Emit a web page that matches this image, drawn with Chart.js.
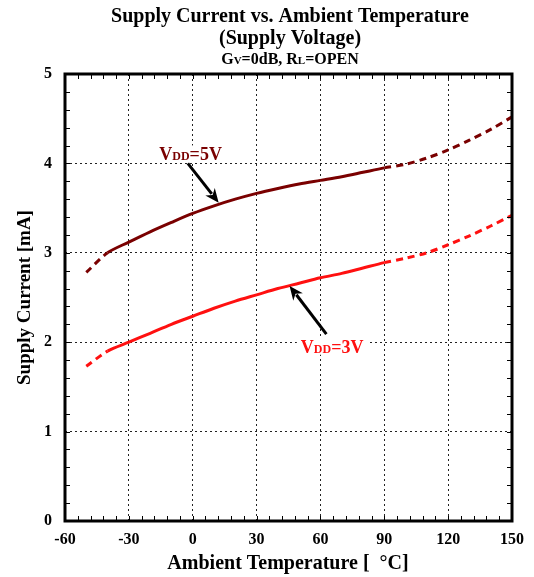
<!DOCTYPE html>
<html>
<head>
<meta charset="utf-8">
<script src="https://cdn.jsdelivr.net/npm/chart.js@4"></script>
<style>
  html, body { margin: 0; padding: 0; background: #fff; }
  #wrap { width: 534px; height: 577px; position: relative; }
</style>
</head>
<body>
<div id="wrap"><canvas id="chart"></canvas></div>
<script>
// Supply current vs ambient temperature

const TEMPS = [-50, -40, -30, -20, -10, 0, 10, 20, 30, 40, 50, 60, 70, 80, 90, 100, 110, 120, 130, 140, 150];
const VDD5  = [2.78, 3.00, 3.12, 3.235, 3.34, 3.44, 3.525, 3.60, 3.665, 3.72, 3.77, 3.81, 3.85, 3.90, 3.95, 3.99, 4.06, 4.15, 4.26, 4.38, 4.52];
const VDD3  = [1.73, 1.90, 2.00, 2.10, 2.20, 2.29, 2.38, 2.46, 2.53, 2.60, 2.66, 2.72, 2.77, 2.83, 2.89, 2.94, 3.00, 3.09, 3.19, 3.30, 3.42];

// measured range is solid, outside it the curve is dashed
const SOLID_FROM = -40;
const SOLID_TO   = 90;

const X_MIN = -60, X_MAX = 150, X_STEP = 30, X_MINOR = 6;
const Y_MIN = 0,   Y_MAX = 5,   Y_STEP = 1,  Y_MINOR = 0.2;

const DARK_RED = '#7a0000';
const RED      = '#ff1010';
const SERIF    = '"Liberation Serif", "Times New Roman", serif';

// ── Helpers ───────────────────────────────────────────────────────────────────
function points(ys) {
  return TEMPS.map((t, i) => ({ x: t, y: ys[i] }));
}

function dashOutside(ctx) {
  const x0 = ctx.p0.parsed.x;
  return (x0 < SOLID_FROM || x0 >= SOLID_TO) ? [7, 5] : undefined;
}

// draws text made of parts with different font sizes, centred on cx
function drawParts(ctx, parts, cx, y, color, bg) {
  ctx.save();
  ctx.textBaseline = 'alphabetic';
  ctx.textAlign = 'left';
  let total = 0, big = 0;
  parts.forEach(p => {
    ctx.font = `bold ${p[1]}px ${SERIF}`;
    total += ctx.measureText(p[0]).width;
    big = Math.max(big, p[1]);
  });
  let x = cx - total / 2;
  if (bg) {
    ctx.fillStyle = '#fff';
    ctx.fillRect(x - 4, y - big * 0.8, total + 8, big * 0.9);
  }
  ctx.fillStyle = color;
  parts.forEach(p => {
    ctx.font = `bold ${p[1]}px ${SERIF}`;
    ctx.fillText(p[0], x, y);
    x += ctx.measureText(p[0]).width;
  });
  ctx.restore();
}

function arrow(ctx, x1, y1, x2, y2) {
  const a = Math.atan2(y2 - y1, x2 - x1);
  const head = 14, half = 6;
  ctx.save();
  ctx.strokeStyle = '#000';
  ctx.fillStyle = '#000';
  ctx.lineWidth = 3;
  ctx.beginPath();
  ctx.moveTo(x1, y1);
  ctx.lineTo(x2 - Math.cos(a) * head * 0.8, y2 - Math.sin(a) * head * 0.8);
  ctx.stroke();
  ctx.beginPath();
  ctx.moveTo(x2, y2);
  ctx.lineTo(x2 - Math.cos(a) * head - Math.sin(a) * half, y2 - Math.sin(a) * head + Math.cos(a) * half);
  ctx.lineTo(x2 - Math.cos(a) * head * 0.7, y2 - Math.sin(a) * head * 0.7);
  ctx.lineTo(x2 - Math.cos(a) * head + Math.sin(a) * half, y2 - Math.sin(a) * head - Math.cos(a) * half);
  ctx.closePath();
  ctx.fill();
  ctx.restore();
}

// ── Decorations: frame, minor ticks, titles, labels ──────────────────────────
const decor = {
  id: 'decor',
  beforeDatasetsDraw(chart) {
    // label boxes knock out the grid behind them
    const { ctx, scales: { x, y } } = chart;
    const px = v => x.getPixelForValue(v), py = v => y.getPixelForValue(v);
    drawParts(ctx, [['V', 18], ['DD', 12], ['=5V', 18]], px(-1), py(4.04), '#fff', true);
    drawParts(ctx, [['V', 18], ['DD', 12], ['=3V', 18]], px(65.5), py(1.88), '#fff', true);
  },
  afterDraw(chart) {
    const { ctx, chartArea: a, scales: { x, y } } = chart;

    // minor ticks, pointing inward on all four sides
    ctx.save();
    ctx.strokeStyle = '#000';
    ctx.lineWidth = 1;
    ctx.beginPath();
    for (let v = X_MIN; v <= X_MAX + 1e-9; v += X_MINOR) {
      const px = Math.round(x.getPixelForValue(v)) + 0.5;
      ctx.moveTo(px, a.bottom); ctx.lineTo(px, a.bottom - 5);
      ctx.moveTo(px, a.top);    ctx.lineTo(px, a.top + 5);
    }
    for (let v = Y_MIN; v <= Y_MAX + 1e-9; v += Y_MINOR) {
      const py = Math.round(y.getPixelForValue(v)) + 0.5;
      ctx.moveTo(a.left, py);  ctx.lineTo(a.left + 5, py);
      ctx.moveTo(a.right, py); ctx.lineTo(a.right - 5, py);
    }
    ctx.stroke();

    // frame
    ctx.lineWidth = 3;
    ctx.strokeRect(a.left, a.top, a.right - a.left, a.bottom - a.top);
    ctx.restore();

    // titles
    const mid = 290;
    drawParts(ctx, [['Supply Current vs. Ambient Temperature', 20]], mid, 22, '#000');
    drawParts(ctx, [['(Supply Voltage)', 20]], mid, 44, '#000');
    drawParts(ctx, [['G', 16], ['V', 11], ['=0dB, R', 16], ['L', 11], ['=OPEN', 16]], mid, 64, '#000');

    // axis titles
    drawParts(ctx, [['Ambient Temperature [  °C]', 20]], 288, 569, '#000');
    ctx.save();
    ctx.translate(30, (a.top + a.bottom) / 2);
    ctx.rotate(-Math.PI / 2);
    drawParts(ctx, [['Supply Current [mA]', 19]], 0, 0, '#000');
    ctx.restore();

    // curve annotations
    const px = v => x.getPixelForValue(v), py = v => y.getPixelForValue(v);
    drawParts(ctx, [['V', 18], ['DD', 12], ['=5V', 18]], px(-1), py(4.04), DARK_RED);
    arrow(ctx, px(-2.3), py(4.0), px(12.2), py(3.56));
    drawParts(ctx, [['V', 18], ['DD', 12], ['=3V', 18]], px(65.5), py(1.88), RED);
    arrow(ctx, px(62.8), py(2.09), px(45.5), py(2.63));
  }
};

// ── Chart ─────────────────────────────────────────────────────────────────────
const tickFont = { family: SERIF, size: 16, weight: 'bold' };
const gridOpts = { color: '#222', lineWidth: 1, drawTicks: false };

new Chart(document.getElementById('chart'), {
  type: 'line',
  data: {
    datasets: [
      { label: 'VDD=5V', data: points(VDD5), borderColor: DARK_RED, borderWidth: 3, pointRadius: 0,
        tension: 0.3, borderCapStyle: 'butt', segment: { borderDash: dashOutside } },
      { label: 'VDD=3V', data: points(VDD3), borderColor: RED, borderWidth: 3, pointRadius: 0,
        tension: 0.3, borderCapStyle: 'butt', segment: { borderDash: dashOutside } },
    ],
  },
  options: {
    responsive: true, maintainAspectRatio: false, animation: false,
    layout: { padding: { top: 74, right: 22, left: 0, bottom: 0 } },
    plugins: { legend: { display: false }, tooltip: { enabled: false } },
    scales: {
      x: {
        type: 'linear', min: X_MIN, max: X_MAX,
        grid: gridOpts,
        border: { display: false, dash: [2, 3] },
        ticks: { stepSize: X_STEP, font: tickFont, color: '#000', padding: 9, maxRotation: 0 },
        afterFit: s => { s.height = 56; },
      },
      y: {
        min: Y_MIN, max: Y_MAX,
        grid: gridOpts,
        border: { display: false, dash: [2, 3] },
        ticks: { stepSize: Y_STEP, font: tickFont, color: '#000', padding: 13 },
        afterFit: s => { s.width = 65; },
      },
    },
  },
  plugins: [decor],
});
</script>
</body>
</html>
